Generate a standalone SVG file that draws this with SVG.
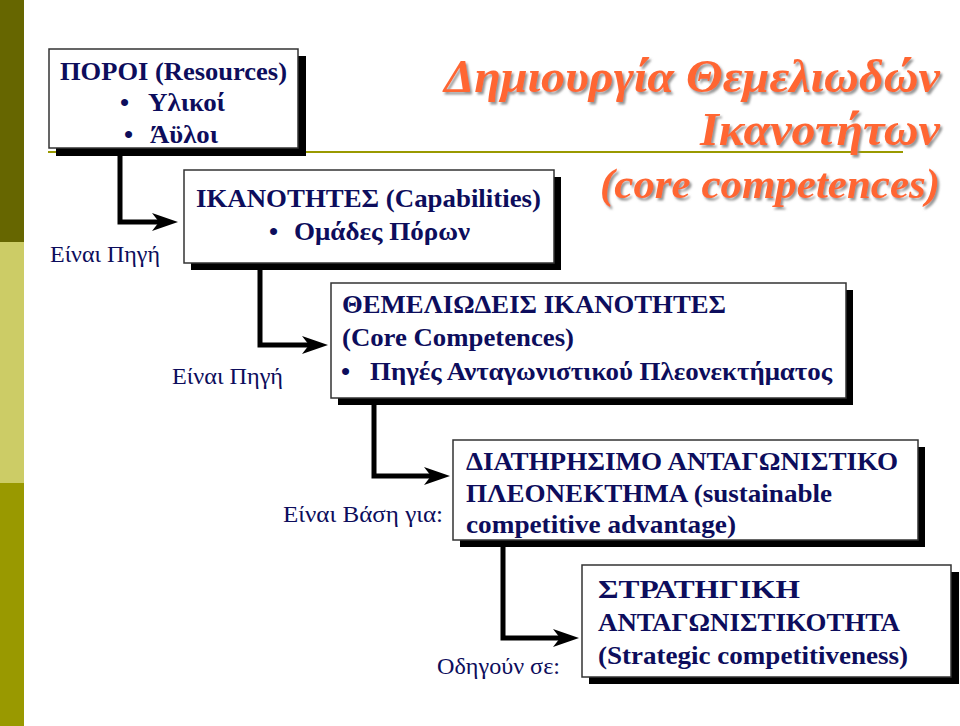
<svg xmlns="http://www.w3.org/2000/svg" width="960" height="726" viewBox="0 0 960 726">
<defs>
<style>
.box{fill:#ffffff;stroke:#333333;stroke-width:1.5}
.shadow{fill:#000000}
.bt{font-weight:bold;font-size:26px;fill:#0d0d5c}
.lbl{font-size:23px;fill:#0d0d5c}
.title{font-weight:bold;font-style:italic;fill:#ff6633;filter:url(#ts)}
.conn{fill:none;stroke:#000000;stroke-width:5;stroke-linejoin:miter}
</style>
<filter id="ts" x="-5%" y="-20%" width="110%" height="150%">
<feDropShadow dx="2" dy="2.5" stdDeviation="1" flood-color="#8a8a8a" flood-opacity="0.9"/>
</filter>
<marker id="ah" viewBox="0 0 26 18" refX="14" refY="9" markerWidth="26" markerHeight="18" markerUnits="userSpaceOnUse" orient="auto">
<path d="M0,0 L26,9 L0,18 L7,9 Z" fill="#000000"/>
</marker>
</defs>
<rect x="0" y="0" width="960" height="726" fill="#ffffff"/>
<g id="sidebar">
<rect x="0" y="0" width="24" height="242" fill="#666600"/>
<rect x="0" y="242" width="24" height="241" fill="#cccc66"/>
<rect x="0" y="483" width="24" height="243" fill="#999900"/>
</g>
<line x1="48" y1="152" x2="903" y2="152" stroke="#999900" stroke-width="2"/>
<g id="title" font-family="Liberation Serif, Times New Roman, serif">
<text class="title" x="940" y="92" text-anchor="end" font-size="46" textLength="496" lengthAdjust="spacingAndGlyphs">Δημιουργία Θεμελιωδών</text>
<text class="title" x="940" y="145" text-anchor="end" font-size="46" textLength="240" lengthAdjust="spacingAndGlyphs">Ικανοτήτων</text>
<text class="title" x="940" y="198" text-anchor="end" font-size="42" textLength="340" lengthAdjust="spacingAndGlyphs">(core competences)</text>
</g>
<g id="connectors">
<path class="conn" d="M120,155 V222 H166" marker-end="url(#ah)"/>
<path class="conn" d="M260,270 V345 H316" marker-end="url(#ah)"/>
<path class="conn" d="M374,405 V476 H438" marker-end="url(#ah)"/>
<path class="conn" d="M503,547 V638 H567" marker-end="url(#ah)"/>
</g>
<g id="labels" font-family="Liberation Serif, Times New Roman, serif">
<text class="lbl" x="50" y="262" textLength="110" lengthAdjust="spacingAndGlyphs">Είναι Πηγή</text>
<text class="lbl" x="172" y="384" textLength="111" lengthAdjust="spacingAndGlyphs">Είναι Πηγή</text>
<text class="lbl" x="283" y="522" textLength="160" lengthAdjust="spacingAndGlyphs">Είναι Βάση για:</text>
<text class="lbl" x="437" y="674" textLength="123" lengthAdjust="spacingAndGlyphs">Οδηγούν σε:</text>
</g>
<g id="nodes" font-family="Liberation Serif, Times New Roman, serif">
<g id="node-resources">
<rect class="shadow" x="56" y="56" width="250" height="100"/>
<rect class="box" x="49" y="49" width="249" height="99"/>
<text class="bt" x="60" y="80" textLength="227" lengthAdjust="spacingAndGlyphs">ΠΟΡΟΙ (Resources)</text>
<text class="bt" x="120" y="111">•</text>
<text class="bt" x="148" y="111" textLength="77" lengthAdjust="spacingAndGlyphs">Υλικοί</text>
<text class="bt" x="124" y="143">•</text>
<text class="bt" x="150" y="143" textLength="68" lengthAdjust="spacingAndGlyphs">Άϋλοι</text>
</g>
<g id="node-capabilities">
<rect class="shadow" x="191" y="177" width="370" height="93"/>
<rect class="box" x="184" y="170" width="370" height="93"/>
<text class="bt" x="196" y="207" textLength="345" lengthAdjust="spacingAndGlyphs">ΙΚΑΝΟΤΗΤΕΣ (Capabilities)</text>
<text class="bt" x="269" y="240">•</text>
<text class="bt" x="294" y="240" textLength="176" lengthAdjust="spacingAndGlyphs">Ομάδες Πόρων</text>
</g>
<g id="node-core">
<rect class="shadow" x="338" y="290" width="515" height="115"/>
<rect class="box" x="331" y="283" width="515" height="115"/>
<text class="bt" x="342" y="313" textLength="384" lengthAdjust="spacingAndGlyphs">ΘΕΜΕΛΙΩΔΕΙΣ ΙΚΑΝΟΤΗΤΕΣ</text>
<text class="bt" x="342" y="346" textLength="232" lengthAdjust="spacingAndGlyphs">(Core Competences)</text>
<text class="bt" x="341" y="380">•</text>
<text class="bt" x="370" y="380" textLength="462" lengthAdjust="spacingAndGlyphs">Πηγές Ανταγωνιστικού Πλεονεκτήματος</text>
</g>
<g id="node-sca">
<rect class="shadow" x="460" y="447" width="465" height="100"/>
<rect class="box" x="453" y="440" width="465" height="100"/>
<text class="bt" x="466" y="470" textLength="432" lengthAdjust="spacingAndGlyphs">ΔΙΑΤΗΡΗΣΙΜΟ ΑΝΤΑΓΩΝΙΣΤΙΚΟ</text>
<text class="bt" x="466" y="502" textLength="366" lengthAdjust="spacingAndGlyphs">ΠΛΕΟΝΕΚΤΗΜΑ (sustainable</text>
<text class="bt" x="466" y="533" textLength="270" lengthAdjust="spacingAndGlyphs">competitive advantage)</text>
</g>
<g id="node-strategic">
<rect class="shadow" x="589" y="572" width="370" height="112"/>
<rect class="box" x="582" y="565" width="369" height="112"/>
<text class="bt" x="598" y="598" textLength="202" lengthAdjust="spacingAndGlyphs">ΣΤΡΑΤΗΓΙΚΗ</text>
<text class="bt" x="598" y="631" textLength="302" lengthAdjust="spacingAndGlyphs">ΑΝΤΑΓΩΝΙΣΤΙΚΟΤΗΤΑ</text>
<text class="bt" x="598" y="664" textLength="310" lengthAdjust="spacingAndGlyphs">(Strategic competitiveness)</text>
</g>
</g>
</svg>
